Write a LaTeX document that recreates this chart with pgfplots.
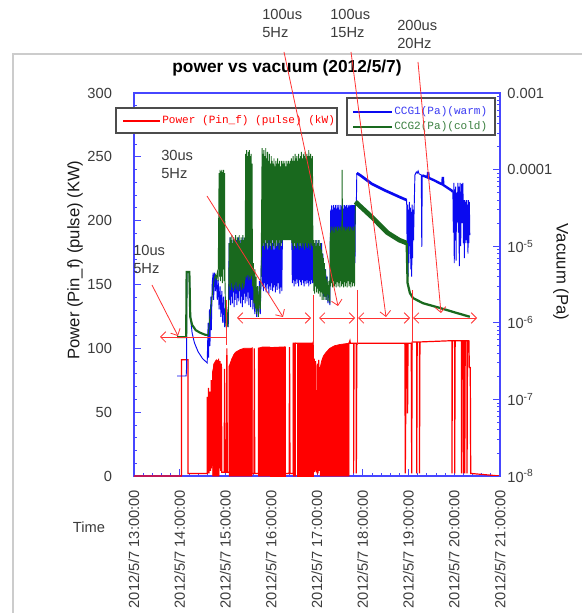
\documentclass[border=0pt]{standalone}
\usepackage{fontspec}
\setmainfont{Liberation Sans}
\newfontfamily\monofont{Liberation Mono}
\usepackage{pgfplots}
\pgfplotsset{compat=1.18}
\usetikzlibrary{arrows.meta}
\definecolor{axblue}{RGB}{70,70,255}
\definecolor{cblue}{RGB}{10,10,240}
\definecolor{cgreen}{RGB}{25,105,30}
\definecolor{cred}{RGB}{255,0,0}
\definecolor{ared}{RGB}{255,50,50}
\definecolor{tickc}{RGB}{60,60,60}
\begin{document}
\begin{tikzpicture}
\fill[white] (0,0) rectangle (436.5pt,459.75pt);
\useasboundingbox (0,0) rectangle (436.5pt,459.75pt);
\begin{scope}[x=0.75pt,y=-0.75pt,yshift=459.75pt]
\draw[black!20, line width=0.8pt] (13,613) -- (13,54) -- (582,54);
\end{scope}
% ---------- power axis ----------
\begin{axis}[at={(100.5pt,102.75pt)}, anchor=south west, scale only axis,
  width=274.5pt, height=287.25pt, xmin=13, xmax=21, ymin=0, ymax=300,
  axis line style={axblue, line width=0.9pt},
  tick style={axblue, line width=0.6pt}, tick align=inside,
  major tick length=5pt, minor tick length=2.5pt,
  xtick={13,14,...,21}, minor x tick num=4, xtick pos=bottom,
  ytick={0,50,...,300}, minor y tick num=4, ytick pos=left,
  xticklabels={2012/5/7 13:00:00,2012/5/7 14:00:00,2012/5/7 15:00:00,2012/5/7 16:00:00,2012/5/7 17:00:00,2012/5/7 18:00:00,2012/5/7 19:00:00,2012/5/7 20:00:00,2012/5/7 21:00:00},
  xticklabel style={rotate=90, anchor=east, font=\fontsize{11}{13}\selectfont, text=tickc},
  xticklabel shift=7pt,
  yticklabel style={font=\fontsize{11}{13}\selectfont, text=tickc},
  yticklabel shift=13pt,
  /pgf/number format/assume math mode=true]
% thin red trace
\addplot[cred, line width=0.9pt, sharp plot] coordinates {
(13.00,0) (14.04,0) (14.04,91) (14.18,91) (14.18,2) (14.60,2) (14.60,62) (14.61,2) (14.63,69) (14.64,2) (14.66,66) (14.67,4) (14.69,75) (14.70,6) (14.72,82) (14.73,8) (14.75,88) (14.76,6) (14.78,90) (14.79,10) (14.80,91) (14.81,5) (14.83,90) (14.84,8) (14.85,92) (14.86,6) (14.88,90) (14.89,4) (14.91,88) (14.92,3) (14.97,3) (14.98,84) (14.99,3) (15.02,3) (15.03,100) (15.04,3) (15.08,3) (15.08,86) (15.58,100) (15.58,2) (15.62,2) (15.63,100) (15.64,2) (15.72,2) (15.72,100) (16.30,101) (16.30,2) (16.39,2) (16.40,101) (16.41,2) (16.48,2) (16.48,104) (16.91,104) (16.92,105) (16.92,2) (16.94,92) (16.95,3) (16.97,90) (16.98,5) (17.00,3) (17.01,88) (17.02,2) (17.04,91) (17.05,4) (17.07,85) (17.70,104) (17.72,106) (17.73,104) (17.80,104) (17.80,2) (17.81,104) (17.86,104) (17.86,2) (17.87,104) (18.92,104) (18.93,2) (18.95,104) (18.97,104) (18.98,49) (18.99,104) (19.06,104) (19.07,2) (19.08,105) (19.18,105) (19.18,2) (19.19,105) (19.24,105) (19.24,2) (19.25,105) (19.95,106) (19.95,2) (19.96,106) (20.01,106) (20.01,2) (20.02,106) (20.16,106) (20.16,2) (20.17,106) (20.20,106) (20.20,2) (20.21,106) (20.23,106) (20.23,2) (20.24,106) (20.28,106) (20.28,2) (20.29,106) (20.32,106) (20.33,85) (20.35,85) (20.36,2) (21.00,0)};
% dense pulse blocks
\addplot[cred, fill=cred, line width=0.5pt] coordinates {(14.72,82) (14.75,88) (14.80,91) (14.86,90)} \closedcycle;
\addplot[cred, fill=cred, line width=0.5pt] coordinates {(15.08,86) (15.11,89) (15.14,92) (15.18,95) (15.22,97) (15.27,98) (15.32,99) (15.40,100) (15.50,100) (15.58,100)} \closedcycle;
\addplot[cred, fill=cred, line width=0.5pt] coordinates {(15.72,100) (15.80,101) (15.97,101)} \closedcycle;
\addplot[cred, fill=cred, line width=0.5pt] coordinates {(15.99,101) (16.15,101) (16.30,101)} \closedcycle;
\addplot[cred, fill=cred, line width=0.5pt] coordinates {(16.48,103) (16.53,104)} \closedcycle;
\addplot[cred, fill=cred, line width=0.5pt] coordinates {(16.56,104) (16.64,104)} \closedcycle;
\addplot[cred, fill=cred, line width=0.5pt] coordinates {(16.66,104) (16.80,104) (16.91,104)} \closedcycle;
\addplot[cred, fill=cred, line width=0.5pt] coordinates {(17.07,85) (17.10,90) (17.14,94) (17.20,97) (17.28,100) (17.38,102) (17.50,103) (17.70,104)} \closedcycle;
\end{axis}
% ---------- vacuum axis ----------
\begin{axis}[at={(100.5pt,102.75pt)}, anchor=south west, scale only axis,
  width=274.5pt, height=287.25pt, xmin=13, xmax=21,
  ymode=log, ymin=1e-8, ymax=1e-3,
  axis x line=none, axis y line*=right,
  axis line style={axblue, line width=0.9pt},
  tick style={axblue, line width=0.6pt}, tick align=inside,
  major tick length=5pt, minor tick length=2.5pt,
  ytick={1e-8,1e-7,1e-6,1e-5,1e-4,1e-3},
  yticklabels={10\textsuperscript{-8},10\textsuperscript{-7},10\textsuperscript{-6},10\textsuperscript{-5},0.0001,0.001},
  yticklabel style={font=\fontsize{11}{13}\selectfont, text=tickc},
  yticklabel shift=2pt]
% CCG1 blue, noisy trace
\addplot[cblue, line width=0.7pt, sharp plot] coordinates {
(13.94,2.02e-7) (14.14,2.02e-7) (14.15,2.65e-7) (14.155,4.6e-6) (14.21,4.6e-6) (14.22,2.0e-6) (14.24,1.09e-6) (14.27,7.4e-7) (14.32,5.5e-7) (14.40,4.2e-7) (14.50,3.4e-7) (14.60,3.0e-7)
(14.62,1.0e-6) (14.63,3.5e-7) (14.65,1.5e-6) (14.66,5e-7) (14.68,2.2e-6) (14.69,8e-7) (14.71,3.3e-6) (14.73,4.5e-6) (14.74,2e-6) (14.76,4.5e-6) (14.78,2.6e-6) (14.80,4.2e-6) (14.82,2.0e-6) (14.84,3.6e-6) (14.86,1.5e-6) (14.88,3.0e-6) (14.90,1.2e-6) (14.92,2.6e-6) (14.94,1.0e-6) (14.96,2.2e-6) (14.98,8.8e-7) (15.00,1.6e-6) (15.02,8.5e-7) (15.04,1.2e-6) (15.06,8.8e-7)
(15.08,1.1e-5) (15.09,2.0e-6) (15.10,1.3e-5) (15.11,1.7e-6) (15.12,9e-6) (15.13,2.2e-6) (15.14,1.2e-5) (15.15,1.8e-6) (15.16,1.0e-5) (15.17,2.5e-6) (15.18,1.3e-5) (15.19,1.6e-6) (15.20,8e-6) (15.21,2.0e-6) (15.22,1.1e-5) (15.23,2.4e-6) (15.24,1.2e-5) (15.25,1.7e-6) (15.26,9e-6) (15.27,2.1e-6) (15.28,1.3e-5) (15.29,1.9e-6) (15.30,1.0e-5) (15.31,2.6e-6) (15.32,1.2e-5) (15.33,1.8e-6) (15.34,7e-6) (15.35,2.2e-6) (15.36,1.1e-5) (15.37,1.6e-6) (15.38,1.3e-5) (15.39,2.0e-6) (15.40,9e-6) (15.41,2.4e-6) (15.42,1.2e-5) (15.43,1.8e-6) (15.44,1.0e-5) (15.45,2.2e-6) (15.46,1.3e-5) (15.47,1.9e-6) (15.48,8e-6) (15.49,2.5e-6) (15.50,1.1e-5) (15.51,1.7e-6) (15.52,1.2e-5) (15.53,2.1e-6) (15.54,9e-6) (15.55,1.6e-6) (15.56,1.0e-5) (15.57,2.0e-6) (15.58,7e-6) (15.60,1.5e-6) (15.62,4e-6) (15.64,1.3e-6) (15.66,3e-6) (15.68,1.2e-6) (15.70,2.5e-6) (15.72,1.2e-6) (15.74,3.5e-6) (15.76,1.3e-6) (15.78,5e-6)
(15.80,1.2e-5) (15.81,3.0e-6) (15.82,1.3e-5) (15.83,2.6e-6) (15.84,1.0e-5) (15.85,3.3e-6) (15.86,1.3e-5) (15.87,2.9e-6) (15.88,1.1e-5) (15.89,2.5e-6) (15.90,1.3e-5) (15.91,3.2e-6) (15.92,9e-6) (15.93,2.8e-6) (15.94,1.2e-5) (15.95,2.4e-6) (15.96,1.3e-5) (15.97,3.0e-6) (15.98,1.0e-5) (15.99,2.7e-6) (16.00,1.3e-5) (16.01,3.3e-6) (16.02,1.1e-5) (16.03,2.6e-6) (16.04,1.3e-5) (16.05,2.9e-6) (16.06,9e-6) (16.07,3.1e-6) (16.08,1.2e-5) (16.09,2.5e-6) (16.10,1.3e-5) (16.11,3.0e-6) (16.12,1.0e-5) (16.13,2.7e-6) (16.14,1.2e-5) (16.15,3.3e-6) (16.16,1.3e-5) (16.17,2.8e-6) (16.18,1.1e-5) (16.19,2.4e-6) (16.20,1.2e-5) (16.21,2.9e-6) (16.22,1.0e-5) (16.23,2.6e-6)
(16.25,2.5e-5) (16.30,3e-5) (16.35,2.5e-5) (16.40,3e-5) (16.44,2.5e-5)
(16.45,1.3e-5) (16.46,3.3e-6) (16.47,1.2e-5) (16.48,3.6e-6) (16.49,1.3e-5) (16.50,3.0e-6) (16.51,1.0e-5) (16.52,3.5e-6) (16.53,1.3e-5) (16.54,3.2e-6) (16.55,1.1e-5) (16.56,3.7e-6) (16.57,1.3e-5) (16.58,3.3e-6) (16.59,1.2e-5) (16.60,3.0e-6) (16.61,1.3e-5) (16.62,3.6e-6) (16.63,1.0e-5) (16.64,3.4e-6) (16.65,1.3e-5) (16.66,3.1e-6) (16.67,1.2e-5) (16.68,3.6e-6) (16.69,1.3e-5) (16.70,3.3e-6) (16.71,1.1e-5) (16.72,3.0e-6) (16.73,1.3e-5) (16.74,3.5e-6) (16.75,1.2e-5) (16.76,3.2e-6) (16.77,1.3e-5) (16.78,3.6e-6) (16.79,1.0e-5) (16.80,3.3e-6) (16.81,1.3e-5) (16.82,3.0e-6) (16.83,1.2e-5) (16.84,3.5e-6) (16.85,1.3e-5) (16.86,3.2e-6) (16.87,1.1e-5) (16.88,3.6e-6) (16.89,1.3e-5) (16.90,3.3e-6)
(16.92,1.2e-5) (16.93,3.3e-6) (16.95,1.1e-5) (16.96,3.0e-6) (16.98,1.2e-5) (16.99,3.5e-6) (17.01,1.0e-5) (17.02,3.1e-6) (17.04,1.2e-5) (17.05,2.8e-6) (17.07,9e-6) (17.08,3.3e-6) (17.10,1.1e-5) (17.11,2.6e-6) (17.13,8e-6) (17.14,2.2e-6) (17.16,6e-6) (17.17,2.2e-6) (17.19,5e-6) (17.20,2.0e-6) (17.22,4e-6) (17.24,1.8e-6) (17.26,3e-6) (17.28,1.7e-6)
(17.30,3.0e-5) (17.31,9e-6) (17.32,3.4e-5) (17.33,6e-6) (17.34,3.0e-5) (17.35,1.1e-5) (17.36,3.45e-5) (17.37,4e-6) (17.38,3.2e-5) (17.39,1.0e-5) (17.40,3.45e-5) (17.41,7e-6) (17.42,3.1e-5) (17.43,1.2e-5) (17.44,3.45e-5) (17.45,3.5e-6) (17.46,3.2e-5) (17.47,9e-6) (17.48,3.45e-5) (17.49,1.1e-5) (17.50,3.0e-5) (17.51,5e-6) (17.52,3.45e-5) (17.53,1.0e-5) (17.54,3.3e-5) (17.55,7e-6) (17.56,3.45e-5) (17.57,1.2e-5) (17.58,3.1e-5) (17.59,4e-6) (17.60,3.45e-5) (17.61,9e-6) (17.62,3.3e-5) (17.63,1.1e-5) (17.64,3.45e-5) (17.65,6e-6) (17.66,3.2e-5) (17.67,1.0e-5) (17.68,3.45e-5) (17.69,8e-6) (17.70,3.3e-5) (17.71,1.2e-5) (17.72,3.45e-5) (17.73,5e-6) (17.74,3.4e-5) (17.75,1.1e-5) (17.76,3.45e-5) (17.77,9e-6) (17.78,3.45e-5) (17.79,3.4e-6) (17.80,3.45e-5) (17.81,1.0e-5) (17.82,3.45e-5) (17.83,6e-6) (17.84,3.45e-5) (17.86,3.45e-5) (17.87,9.0e-5)};
\addplot[cblue, line width=2pt, sharp plot] coordinates {
(17.87,9.0e-5) (17.95,8.4e-5) (18.20,6.5e-5) (18.50,5.3e-5) (18.80,4.4e-5) (18.96,4.0e-5)};
\addplot[cblue, line width=0.7pt, sharp plot] coordinates {
(18.96,4.0e-5) (18.97,8e-6) (18.98,3.5e-5) (18.99,4e-6) (19.00,3.0e-5) (19.01,6e-6) (19.02,3.8e-5) (19.03,1.0e-5) (19.04,3.2e-5) (19.05,5e-6) (19.06,2.8e-5) (19.07,4e-6) (19.08,3.5e-5) (19.09,7e-6) (19.10,3.0e-5) (19.11,1.2e-5) (19.12,2.5e-5) (19.14,8.5e-5) (19.17,9.3e-5) (19.19,9.0e-5) (19.21,9.6e-5) (19.23,8.8e-5) (19.28,8.5e-5) (19.29,9.8e-6) (19.30,8.4e-5)};
\addplot[cblue, line width=1.8pt, sharp plot] coordinates {
(19.30,8.4e-5) (19.35,8.2e-5) (19.42,7.9e-5) (19.43,9.3e-5) (19.44,7.8e-5) (19.55,7.3e-5) (19.65,6.8e-5) (19.74,6.4e-5) (19.75,8.0e-5) (19.76,6.3e-5) (19.85,5.8e-5) (19.95,5.3e-5) (19.97,5.1e-5)};
\addplot[cblue, line width=0.7pt, sharp plot] coordinates {
(19.97,5.1e-5) (19.98,1.5e-5) (19.99,6.7e-5) (20.00,6e-6) (20.01,5.5e-5) (20.02,1.2e-5) (20.03,6.0e-5) (20.04,6.5e-6) (20.05,5e-5) (20.06,2e-5) (20.08,6.7e-5) (20.09,1.5e-5) (20.10,6.0e-5) (20.11,5.5e-6) (20.13,6.7e-5) (20.14,1.0e-5) (20.16,6.5e-5) (20.17,2e-5) (20.19,6.7e-5) (20.20,1.1e-5) (20.21,4.0e-5) (20.22,7e-6) (20.23,4.0e-5) (20.24,1.1e-5) (20.25,3.8e-5) (20.26,1.2e-5) (20.27,4.0e-5) (20.28,1.1e-5) (20.29,3.5e-5) (20.30,8e-6) (20.31,4.0e-5) (20.32,1.1e-5) (20.33,3.8e-5) (20.34,1.4e-5)};
% CCG2 green
\addplot[cgreen, line width=1.6pt, sharp plot] coordinates {
(13.94,6.5e-7) (14.14,6.5e-7) (14.15,4.6e-6) (14.21,4.6e-6) (14.23,1.19e-6) (14.27,9.4e-7) (14.35,8.0e-7) (14.45,7.4e-7) (14.55,7.0e-7) (14.62,6.9e-7)};
\addplot[cgreen, line width=0.7pt, sharp plot] coordinates {
(14.62,6.9e-7) (14.64,9e-7) (14.66,1.2e-6) (14.68,1.6e-6) (14.70,2.0e-6) (14.72,2.6e-6) (14.74,3.3e-6) (14.76,3.8e-6) (14.78,4.2e-6) (14.80,3.8e-6) (14.82,4.5e-6) (14.84,3.5e-6)
(14.86,9.0e-5) (14.87,4e-6) (14.88,9.9e-5) (14.89,3.5e-6) (14.90,9.5e-5) (14.91,4e-6) (14.92,9.9e-5) (14.93,3.3e-6) (14.94,9.3e-5) (14.95,5e-6) (14.96,9.9e-5) (14.97,3.5e-6) (14.98,9.0e-5) (14.99,3e-6)
(15.01,9e-7) (15.03,1.5e-6) (15.05,8.8e-7) (15.07,2e-6)
(15.08,1.1e-5) (15.09,3.0e-6) (15.10,1.3e-5) (15.11,2.7e-6) (15.12,1.2e-5) (15.13,3.3e-6) (15.14,1.4e-5) (15.15,2.9e-6) (15.16,1.1e-5) (15.17,2.6e-6) (15.18,1.3e-5) (15.19,3.1e-6) (15.20,1.2e-5) (15.21,2.8e-6) (15.22,1.4e-5) (15.23,3.4e-6) (15.24,1.1e-5) (15.25,2.7e-6) (15.26,1.3e-5) (15.27,3.0e-6) (15.28,1.2e-5) (15.29,2.6e-6) (15.30,1.4e-5) (15.31,3.2e-6) (15.32,1.1e-5) (15.33,2.9e-6) (15.34,1.3e-5) (15.35,2.7e-6) (15.36,1.2e-5) (15.37,3.3e-6) (15.38,1.4e-5) (15.39,2.8e-6) (15.40,1.2e-5) (15.41,3.0e-6) (15.42,1.3e-5)
(15.43,3.6e-6) (15.44,1.6e-4) (15.45,4.0e-6) (15.46,1.8e-4) (15.47,3.8e-6) (15.48,1.5e-4) (15.49,4.2e-6) (15.50,1.7e-4) (15.51,3.6e-6) (15.52,1.8e-4) (15.53,4.0e-6) (15.54,1.5e-4) (15.55,3.7e-6) (15.56,1.6e-4) (15.57,4.1e-6) (15.58,1.2e-4)
(15.59,3e-6) (15.61,6e-6) (15.62,1.8e-6) (15.64,5e-6) (15.65,1.5e-6) (15.67,4e-6) (15.68,1.3e-6) (15.70,3e-6) (15.72,1.2e-6) (15.74,3e-6) (15.76,1.5e-6) (15.78,5e-6)
(15.80,1.9e-4) (15.81,1.0e-5) (15.82,1.6e-4) (15.83,1.1e-5) (15.84,1.8e-4) (15.85,9e-6) (15.86,1.5e-4) (15.87,1.2e-5) (15.88,1.9e-4) (15.89,1.0e-5) (15.90,1.4e-4) (15.91,1.1e-5) (15.92,1.7e-4) (15.93,9.5e-6) (15.94,1.3e-4) (15.95,1.2e-5) (15.96,1.6e-4) (15.97,1.0e-5) (15.98,1.2e-4) (15.99,1.1e-5) (16.00,1.5e-4) (16.01,9e-6) (16.02,1.3e-4) (16.03,1.2e-5) (16.04,1.2e-4) (16.05,1.0e-5) (16.06,1.4e-4) (16.07,1.1e-5) (16.08,1.1e-4) (16.09,9.5e-6) (16.10,1.3e-4) (16.11,1.2e-5) (16.12,1.2e-4) (16.13,1.0e-5) (16.14,1.4e-4) (16.15,1.1e-5) (16.16,1.2e-4) (16.17,9e-6) (16.18,1.3e-4) (16.19,1.2e-5) (16.20,1.1e-4) (16.21,1.0e-5) (16.22,1.3e-4) (16.23,1.1e-5) (16.24,1.2e-4) (16.25,1.2e-5) (16.26,1.3e-4) (16.27,1.2e-5) (16.28,1.2e-4) (16.29,1.2e-5) (16.30,1.3e-4) (16.31,1.2e-5) (16.32,1.1e-4) (16.33,1.2e-5) (16.34,1.3e-4) (16.35,1.2e-5) (16.36,1.2e-4) (16.37,1.2e-5) (16.38,1.3e-4) (16.39,1.2e-5) (16.40,1.2e-4) (16.41,1.2e-5) (16.42,1.3e-4) (16.43,1.2e-5) (16.44,1.4e-4) (16.45,1.1e-5) (16.46,1.3e-4) (16.47,1.0e-5) (16.48,1.5e-4) (16.49,9e-6) (16.50,1.3e-4) (16.51,1.1e-5) (16.52,1.6e-4) (16.53,1.0e-5) (16.54,1.4e-4) (16.55,9.5e-6) (16.56,1.5e-4) (16.57,1.1e-5) (16.58,1.3e-4) (16.59,1.0e-5) (16.60,1.6e-4) (16.61,9e-6) (16.62,1.4e-4) (16.63,1.1e-5) (16.64,1.5e-4) (16.65,1.0e-5) (16.66,1.7e-4) (16.67,9.5e-6) (16.68,1.4e-4) (16.69,1.1e-5) (16.70,1.6e-4) (16.71,1.0e-5) (16.72,1.5e-4) (16.73,9e-6) (16.74,1.7e-4) (16.75,1.1e-5) (16.76,1.4e-4) (16.77,1.0e-5) (16.78,1.6e-4) (16.79,9.5e-6) (16.80,1.5e-4) (16.81,1.1e-5) (16.82,1.8e-4) (16.83,1.0e-5) (16.84,1.5e-4) (16.85,9e-6) (16.86,1.6e-4) (16.87,1.1e-5) (16.88,1.4e-4) (16.89,1.0e-5) (16.90,1.5e-4)
(16.91,1.0e-5) (16.92,1.2e-5) (16.93,2.6e-6) (16.94,1.1e-5) (16.95,2.4e-6) (16.96,1.2e-5) (16.97,3.0e-6) (16.98,1.0e-5) (16.99,2.5e-6) (17.00,1.2e-5) (17.01,2.8e-6) (17.02,1.1e-5) (17.03,2.4e-6) (17.04,1.2e-5) (17.05,2.6e-6) (17.06,1.0e-5) (17.07,2.2e-6) (17.08,1.1e-5) (17.09,2.5e-6) (17.10,9e-6) (17.11,2.0e-6) (17.12,8e-6) (17.13,2.4e-6) (17.14,7e-6) (17.15,2.0e-6) (17.16,6e-6) (17.17,2.2e-6) (17.18,5e-6) (17.20,2.0e-6) (17.22,4e-6) (17.24,1.9e-6) (17.26,3.5e-6) (17.28,1.8e-6)
(17.29,1.5e-5) (17.30,3.0e-6) (17.31,1.8e-5) (17.32,3.3e-6) (17.33,1.6e-5) (17.34,2.9e-6) (17.35,1.8e-5) (17.36,3.5e-6) (17.37,1.5e-5) (17.38,3.0e-6) (17.39,1.8e-5) (17.40,3.2e-6) (17.41,1.7e-5) (17.42,2.9e-6) (17.43,1.8e-5) (17.44,3.4e-6) (17.45,1.6e-5) (17.46,3.0e-6) (17.47,1.8e-5) (17.48,3.3e-6) (17.49,1.7e-5) (17.50,2.9e-6) (17.51,1.8e-5) (17.52,3.5e-6) (17.53,1.6e-5) (17.54,3.0e-6) (17.55,9.9e-5) (17.56,3.2e-6) (17.57,1.8e-5) (17.58,2.9e-6) (17.59,1.7e-5) (17.60,3.4e-6) (17.61,1.8e-5) (17.62,3.0e-6) (17.63,1.6e-5) (17.64,3.3e-6) (17.65,1.8e-5) (17.66,2.9e-6) (17.67,1.7e-5) (17.68,3.5e-6) (17.69,1.8e-5) (17.70,3.0e-6) (17.71,1.6e-5) (17.72,3.2e-6) (17.73,1.8e-5) (17.74,2.9e-6) (17.75,1.7e-5) (17.76,3.4e-6) (17.77,1.8e-5) (17.78,3.0e-6) (17.79,1.6e-5) (17.80,3.3e-6) (17.81,1.8e-5) (17.82,3.0e-6) (17.83,1.8e-5) (17.84,3.8e-5)};
\addplot[cgreen, line width=3.5pt, sharp plot] coordinates {
(17.84,3.8e-5) (17.95,3.3e-5) (18.20,2.4e-5) (18.54,1.5e-5) (18.80,1.2e-5) (18.96,1.1e-5)};
\addplot[cgreen, line width=1.7pt, sharp plot] coordinates {
(18.96,1.1e-5) (18.98,3.3e-6) (19.03,2.45e-6) (19.10,2.1e-6) (19.32,1.8e-6) (19.69,1.56e-6) (20.06,1.34e-6) (20.34,1.2e-6)};
\end{axis}
% ---------- legends, labels and annotations (pixel frame) ----------
\begin{scope}[x=0.75pt,y=-0.75pt,yshift=459.75pt]
\draw[black!70, line width=1pt, fill=white] (116,108) rectangle (337,133);
\draw[cred, line width=0.8pt] (123,121) -- (160,121);
\node[anchor=west, inner sep=0pt, text=cred, font=\monofont\fontsize{8.3}{10}\selectfont] at (162,121) {Power (Pin\_f) (pulse) (kW)};
\draw[black!70, line width=1pt, fill=white] (347,98) rectangle (495,135);
\draw[cblue, line width=1.4pt] (353,112) -- (392,112);
\draw[cgreen, line width=1.4pt] (353,127) -- (392,127);
\node[anchor=west, inner sep=0pt, text=cblue!80!white, font=\monofont\fontsize{8.3}{10}\selectfont] at (394,112) {CCG1(Pa)(warm)};
\node[anchor=west, inner sep=0pt, text=cgreen!85!white, font=\monofont\fontsize{8.3}{10}\selectfont] at (394,127) {CCG2(Pa)(cold)};
% titles and axis labels
\node[font=\bfseries\fontsize{13}{15}\selectfont] at (287,68) {power vs vacuum (2012/5/7)};
\node[rotate=90, font=\fontsize{12.5}{14}\selectfont, text=black!90] at (75,260) {Power (Pin\_f) (pulse) (KW)};
\node[rotate=-90, font=\fontsize{12.5}{14}\selectfont, text=black!90] at (561,272) {Vacuum (Pa)};
\node[font=\fontsize{11}{13}\selectfont, text=tickc] at (89,527) {Time};
% annotation texts
\begin{scope}[every node/.style={anchor=north west, align=left, inner sep=0pt, font=\fontsize{11}{13.5}\selectfont, text=tickc}]
\node at (262,9) {100us\\5Hz};
\node at (330,9) {100us\\15Hz};
\node at (397,20) {200us\\20Hz};
\node at (161,150) {30us\\5Hz};
\node at (133,245) {10us\\5Hz};
\end{scope}
% annotation arrows
\begin{scope}[ared, line width=0.6pt, >={Straight Barb[length=4pt,width=8pt]}]
\draw[->] (152,285) -- (178,336);
\draw[->] (226,337) -- (160,337);
\draw (226,300) -- (226,345);
\draw[->] (207,196) -- (283,317);
\draw[<->] (237,318) -- (311,318);
\draw (313,295) -- (313,345);
\draw[<->] (319,318) -- (355,318);
\draw (357,290) -- (357,345);
\draw[<->] (358,318) -- (410,318);
\draw (412,290) -- (412,350);
\draw[<->] (413,318) -- (477,318);
\draw[->] (284,52) -- (338,306);
\draw[->] (351,52) -- (386,317);
\draw[->] (418,62) -- (441,313);
\end{scope}
\end{scope}
\end{tikzpicture}
\end{document}
